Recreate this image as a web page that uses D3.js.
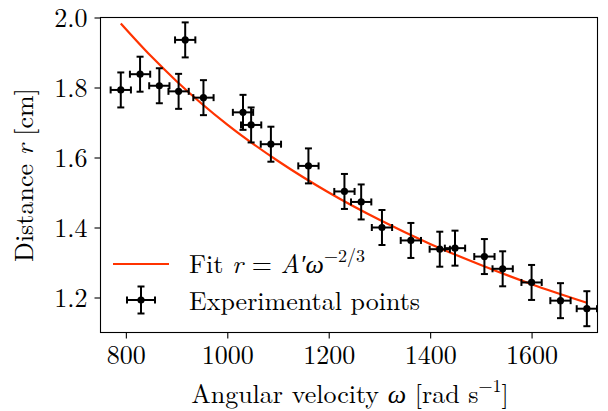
<!DOCTYPE html>
<html>
<head>
<meta charset="utf-8">
<script src="https://cdn.jsdelivr.net/npm/d3@7"></script>
<style>
  html, body { margin: 0; padding: 0; background: #fff; }
</style>
</head>
<body>
<svg id="chart" width="608" height="411"></svg>
<script>
// ---- data ----
const omega = [790, 828, 866, 904, 917, 953, 1031, 1047, 1086, 1160, 1231, 1264, 1305, 1362, 1419, 1449, 1507, 1543, 1600, 1657, 1709];
const radius = [1.793, 1.838, 1.805, 1.789, 1.936, 1.771, 1.729, 1.693, 1.638, 1.576, 1.503, 1.473, 1.400, 1.363, 1.338, 1.341, 1.317, 1.282, 1.243, 1.191, 1.168];
const omegaErr = 20;
const radiusErr = 0.05;
// fit curve r = A' ω^(-2/3)
const fitOmega = [790, 850, 900, 1000, 1100, 1200, 1300, 1400, 1500, 1600, 1709];
const fitR = [1.983, 1.889, 1.818, 1.694, 1.590, 1.500, 1.422, 1.353, 1.293, 1.238, 1.185];
const xTicks = [800, 1000, 1200, 1400, 1600];
const yTicks = [1.2, 1.4, 1.6, 1.8, 2.0];
const xDomain = [750, 1730];
const yDomain = [1.1, 2.0];

const FONT = '"Latin Modern Roman", "Liberation Serif", serif';
const GREEK = '"Liberation Serif", serif';
const FS = 26;
const SUP = 18;
const red = "#ff3300";

const svg = d3.select("#chart");
const L = 100.5, R = 597.5, T = 17.5, B = 332.5;
const x = d3.scaleLinear().domain(xDomain).range([L, R]);
const y = d3.scaleLinear().domain(yDomain).range([B, T]);

// axes
const xAxis = d3.axisBottom(x).tickValues(xTicks).tickSize(6).tickPadding(7).tickFormat(d3.format("d"));
const yAxis = d3.axisLeft(y).tickValues(yTicks).tickSize(6).tickPadding(7).tickFormat(d3.format(".1f"));
const gx = svg.append("g").attr("transform", `translate(0,${B})`).call(xAxis);
const gy = svg.append("g").attr("transform", `translate(${L},0)`).call(yAxis);
[gx, gy].forEach(g => {
  g.select(".domain").remove();
  g.selectAll(".tick line").attr("stroke", "#000").attr("stroke-width", 1.1);
  g.selectAll(".tick text").style("font-family", FONT).style("font-size", FS + "px").attr("fill", "#000");
});
gx.selectAll(".tick text").attr("dy", "0.71em");
gy.selectAll(".tick text").attr("dy", "0.34em");

// frame
svg.append("rect").attr("x", L).attr("y", T).attr("width", R - L).attr("height", B - T)
  .attr("fill", "none").attr("stroke", "#000").attr("stroke-width", 1.1);

// fit line
const line = d3.line().x((d, i) => x(fitOmega[i])).y(d => y(d)).curve(d3.curveMonotoneX);
svg.append("path").datum(fitR).attr("d", line).attr("fill", "none")
  .attr("stroke", red).attr("stroke-width", 2.2);

// error bars
const cap = 3.5;
const pts = svg.append("g");
omega.forEach((w, i) => {
  const r = radius[i];
  const cx = x(w), cy = y(r);
  const g = pts.append("g").attr("stroke", "#000").attr("stroke-width", 2);
  g.append("line").attr("x1", x(w - omegaErr)).attr("x2", x(w + omegaErr)).attr("y1", cy).attr("y2", cy);
  g.append("line").attr("x1", cx).attr("x2", cx).attr("y1", y(r - radiusErr)).attr("y2", y(r + radiusErr));
  g.append("line").attr("x1", x(w - omegaErr)).attr("x2", x(w - omegaErr)).attr("y1", cy - cap).attr("y2", cy + cap);
  g.append("line").attr("x1", x(w + omegaErr)).attr("x2", x(w + omegaErr)).attr("y1", cy - cap).attr("y2", cy + cap);
  g.append("line").attr("x1", cx - cap).attr("x2", cx + cap).attr("y1", y(r - radiusErr)).attr("y2", y(r - radiusErr));
  g.append("line").attr("x1", cx - cap).attr("x2", cx + cap).attr("y1", y(r + radiusErr)).attr("y2", y(r + radiusErr));
  pts.append("circle").attr("cx", cx).attr("cy", cy).attr("r", 3.6).attr("fill", "#000");
});

function txt(sel) {
  return sel.style("font-family", FONT).style("font-size", FS + "px").attr("fill", "#000");
}

// legend
const lg = svg.append("g");
lg.append("line").attr("x1", 113).attr("x2", 169).attr("y1", 264).attr("y2", 264)
  .attr("stroke", red).attr("stroke-width", 2.2);
const t1 = txt(lg.append("text")).attr("x", 189).attr("y", 273);
t1.append("tspan").text("Fit ");
t1.append("tspan").style("font-style", "italic").text("r");
t1.append("tspan").text(" = ");
t1.append("tspan").style("font-style", "italic").text("A′");
t1.append("tspan").style("font-style", "italic").style("font-family", GREEK).text("ω");
t1.append("tspan").style("font-size", SUP + "px").attr("dy", -11).text("−2/3");

const mk = lg.append("g").attr("stroke", "#000").attr("stroke-width", 2);
const mx = 141, my = 300;
mk.append("line").attr("x1", mx - 14).attr("x2", mx + 14).attr("y1", my).attr("y2", my);
mk.append("line").attr("x1", mx).attr("x2", mx).attr("y1", my - 13.5).attr("y2", my + 13.5);
[-14, 14].forEach(d => mk.append("line").attr("x1", mx + d).attr("x2", mx + d).attr("y1", my - cap).attr("y2", my + cap));
[-13.5, 13.5].forEach(d => mk.append("line").attr("x1", mx - cap).attr("x2", mx + cap).attr("y1", my + d).attr("y2", my + d));
lg.append("circle").attr("cx", mx).attr("cy", my).attr("r", 3.6).attr("fill", "#000");
txt(lg.append("text")).attr("x", 189).attr("y", 310).text("Experimental points");

// axis labels
const xl = txt(svg.append("text")).attr("x", 350).attr("y", 403).attr("text-anchor", "middle");
xl.append("tspan").text("Angular velocity ");
xl.append("tspan").style("font-style", "italic").style("font-family", GREEK).text("ω");
xl.append("tspan").text(" [rad s");
xl.append("tspan").style("font-size", SUP + "px").attr("dy", -11).text("−1");
xl.append("tspan").attr("dy", 11).text("]");

const yl = txt(svg.append("text")).attr("transform", `translate(33,${(T + B) / 2}) rotate(-90)`)
  .attr("text-anchor", "middle");
yl.append("tspan").text("Distance ");
yl.append("tspan").style("font-style", "italic").text("r");
yl.append("tspan").text(" [cm]");
</script>
</body>
</html>
